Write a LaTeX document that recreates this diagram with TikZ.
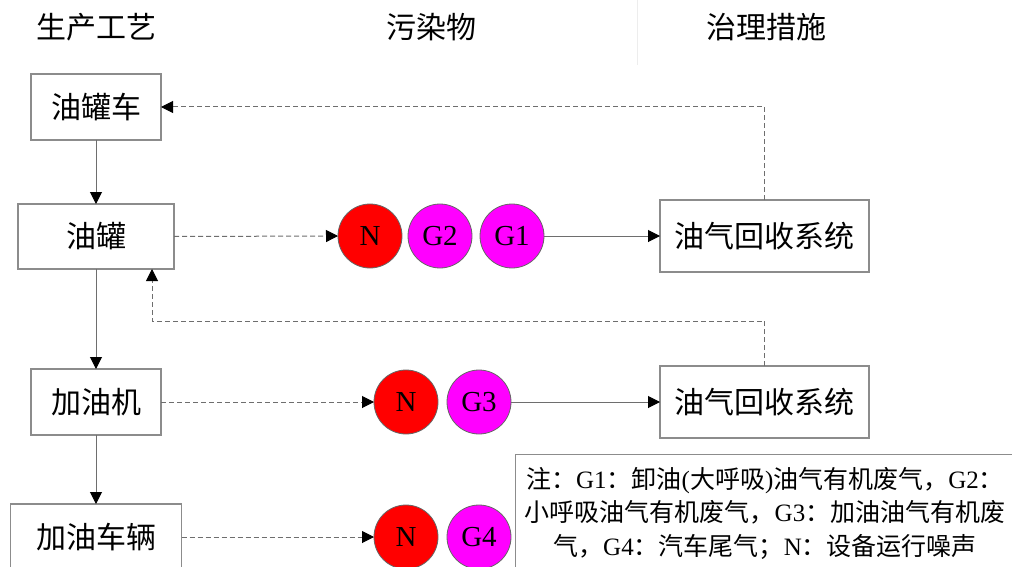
\documentclass[tikz,border=0pt]{standalone}
\usepackage{fontspec}
\setmainfont{Liberation Serif}
\newfontfamily\cjk{Noto Sans CJK SC}
\usetikzlibrary{arrows.meta,calc}
\newcommand{\myzh}[1]{{\cjk #1}}
\definecolor{boxgray}{HTML}{8C8C8C}
\definecolor{linegray}{HTML}{6E6E6E}
\definecolor{pinkG}{HTML}{FF00FF}
\definecolor{redN}{HTML}{FF0000}
\tikzset{
  procbox/.style={draw=boxgray, line width=1.1pt, rectangle, outer sep=0pt, inner sep=0pt,
    font=\cjk\fontsize{30}{34}\selectfont},
  hdr/.style={font=\cjk\fontsize{30}{34}\selectfont, inner sep=0pt},
  pollu/.style={circle, draw=black!60, line width=0.8pt, minimum size=64pt, inner sep=0pt, outer sep=0pt,
    font=\fontsize{29}{32}\selectfont},
  noise/.style={pollu, fill=redN},
  gas/.style={pollu, fill=pinkG},
  tipA/.style={-{Triangle[length=12pt,width=12pt,color=black]}},
  solidc/.style={draw=linegray, line width=1pt, tipA},
  dashc/.style={draw=linegray, line width=1pt, dash pattern=on 5pt off 3pt, tipA},
}
\begin{document}
\begin{tikzpicture}[x=1pt,y=-1pt]
\useasboundingbox (0,0) rectangle (1012,567);
\fill[white] (0,0) rectangle (1012,567);
% faint separator
\draw[black!7, line width=1pt] (637,0) -- (637,65);
% headers
\node[hdr] (h1) at (96,27) {生产工艺};
\node[hdr] (h2) at (431,27) {污染物};
\node[hdr] (h3) at (766,27) {治理措施};
% process boxes
\node[procbox, minimum width=130pt, minimum height=66pt] (tk) at (96,107) {油罐车};
\node[procbox, minimum width=156pt, minimum height=65pt] (tank) at (96,236.5) {油罐};
\node[procbox, minimum width=130pt, minimum height=66pt] (disp) at (96,402) {加油机};
\node[procbox, minimum width=171pt, minimum height=66pt] (car) at (96,537) {加油车辆};
% treatment boxes
\node[procbox, minimum width=209pt, minimum height=72pt] (r1) at (764.5,236) {油气回收系统};
\node[procbox, minimum width=209pt, minimum height=72pt] (r2) at (764.5,402) {油气回收系统};
% pollutants
\node[noise] (n1) at (370,236) {N};
\node[gas] (g2) at (440,236) {G2};
\node[gas] (g1) at (512,236) {G1};
\node[noise] (n2) at (406,402) {N};
\node[gas] (g3) at (479,402) {G3};
\node[noise] (n3) at (406,537) {N};
\node[gas] (g4) at (479,537) {G4};
% connectors
\draw[solidc] (tk.south) -- (tank.north);
\draw[solidc] (tank.south) -- (disp.north);
\draw[solidc] (disp.south) -- (car.north);
\draw[dashc] (tank.east) -- (n1.west);
\draw[dashc] (disp.east) -- (n2.west);
\draw[dashc] (car.east) -- (n3.west);
\draw[solidc] (g1.east) -- (r1.west);
\draw[solidc] (g3.east) -- (r2.west);
\draw[dashc] (r1.north) |- (tk.east);
\coordinate (c2) at (152,321);
\draw[dashc] (r2.north) |- (c2) -- (c2 |- tank.south);
% note
\node[draw=boxgray, line width=1.1pt, anchor=north west, minimum width=520pt, minimum height=130pt, inner sep=0pt] (notebox) at (515,454) {};
\node[align=center, inner sep=0pt, font=\fontsize{25}{33.5}\selectfont] (notetext) at (765,513)
 {\myzh{注：}G1\myzh{：卸油}(\myzh{大呼吸})\myzh{油气有机废气，}G2\myzh{：}\\
  \myzh{小呼吸油气有机废气，}G3\myzh{：加油油气有机废}\\
  \myzh{气，}G4\myzh{：汽车尾气；}N\myzh{：设备运行噪声}};
\end{tikzpicture}
\end{document}
